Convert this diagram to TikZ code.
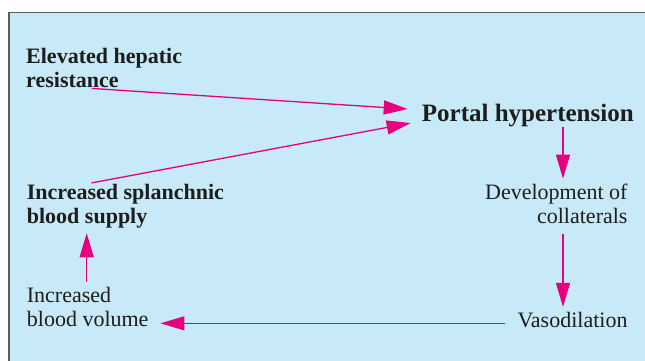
\documentclass[tikz,border=0pt]{standalone}
\usepackage{fontspec}
\setmainfont{Liberation Serif}
\usetikzlibrary{arrows.meta}

\definecolor{paleblue}{RGB}{199,233,248}
\definecolor{hotpink}{RGB}{230,0,126}
\definecolor{ink}{RGB}{29,29,27}
\definecolor{rim}{RGB}{90,90,90}

\tikzset{every node/.style={inner sep=0pt,text=ink}}
\tikzset{cause/.style={font=\fontsize{22}{24}\selectfont\bfseries,align=left}}
\tikzset{effect/.style={font=\fontsize{22}{24}\selectfont}}
\tikzset{flow/.style={hotpink,line width=1.3pt,-{Triangle[length=24pt,width=14pt]},shorten <=5pt,shorten >=5pt}}

\begin{document}
\begin{tikzpicture}[x=1pt,y=1pt]
		\useasboundingbox (0,0) rectangle (645,-361);
		\fill[paleblue] (9,-12.7) rectangle (645,-361);
		\draw[rim,line width=1.5pt] (9,-361) -- (9,-12.7) -- (645,-12.7);

		\node[cause,anchor=base west] (hep) at (26,-87.7) {Elevated hepatic\\resistance};
		\node[anchor=base west,font=\fontsize{25}{30}\selectfont\bfseries] (portal) at (421.7,-121) {Portal hypertension};
		\node[cause,anchor=base west] (spl) at (26.7,-223.3) {Increased splanchnic\\blood supply};
		\node[effect,align=right,anchor=base east] (devel) at (627.7,-223.3) {Development of\\collaterals};
		\node[effect,align=right,anchor=base east] (vaso) at (627.7,-327.3) {Vasodilation};
		\node[effect,align=left,anchor=base west] (vol) at (26.7,-326.7) {Increased\\blood volume};

		\coordinate (lcol) at (86.7,0);
		\coordinate (rcol) at (563,0);

		\draw[flow,shorten >=0pt] (hep.south -| lcol) -- ([shift={(-14,6)}]portal.west);
		\draw[flow,shorten >=0pt] (spl.north -| lcol) -- ([shift={(-11,-8)}]portal.west);
		\draw[flow,shorten <=0pt] (portal.south -| rcol) -- (devel.north -| rcol);
		\draw[flow,shorten <=10pt] (devel.south -| rcol) -- (vaso.north -| rcol);
		\draw[flow,shorten <=12pt,shorten >=11.7pt] ([yshift=-3.5pt]vaso.west) -- ([yshift=-3.5pt]vaso.west -| vol.east);
		\draw[flow] (vol.north -| lcol) -- (spl.south -| lcol);
\end{tikzpicture}
\end{document}
